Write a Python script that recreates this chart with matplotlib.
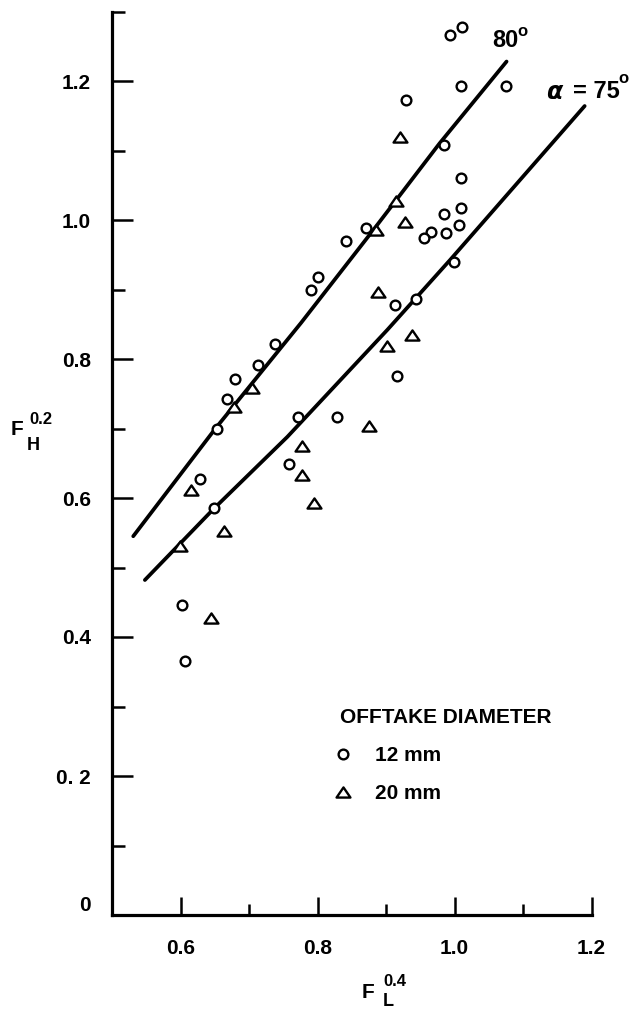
import matplotlib
matplotlib.use('Agg')
import matplotlib.pyplot as plt
from matplotlib.path import Path

plt.rcParams['font.family'] = ['Liberation Sans', 'DejaVu Sans']
plt.rcParams['font.weight'] = 'bold'

# ========== Data ==========
# 12 mm offtake (open circles)
x_12mm = [0.993, 1.011, 1.010, 1.075, 0.929, 0.984, 1.009, 1.009, 0.984, 1.006,
          0.966, 0.956, 0.987, 0.871, 0.841, 0.999, 0.801, 0.791, 0.944, 0.913,
          0.738, 0.713, 0.680, 0.668, 0.653, 0.771, 0.829, 0.916, 0.759, 0.629,
          0.649, 0.602, 0.606]
y_12mm = [1.266, 1.278, 1.193, 1.193, 1.172, 1.108, 1.061, 1.017, 1.009, 0.993,
          0.983, 0.974, 0.981, 0.989, 0.970, 0.939, 0.918, 0.899, 0.886, 0.878,
          0.821, 0.792, 0.771, 0.743, 0.699, 0.717, 0.717, 0.775, 0.649, 0.627,
          0.585, 0.446, 0.366]

# 20 mm offtake (open triangles)
x_20mm = [0.920, 0.915, 0.928, 0.885, 0.889, 0.938, 0.901, 0.705, 0.678, 0.778,
          0.777, 0.795, 0.875, 0.615, 0.664, 0.599, 0.645]
y_20mm = [1.120, 1.028, 0.997, 0.985, 0.896, 0.834, 0.819, 0.758, 0.731, 0.675,
          0.633, 0.593, 0.704, 0.612, 0.552, 0.531, 0.428]

# correlation curves
x_80 = [0.531, 0.651, 0.776, 0.881, 0.978, 1.076]
y_80 = [0.545, 0.700, 0.852, 0.985, 1.110, 1.228]
x_75 = [0.548, 0.649, 0.756, 0.902, 0.994, 1.190]
y_75 = [0.482, 0.585, 0.688, 0.842, 0.943, 1.164]

series_labels = ['12 mm', '20 mm']
legend_title = 'OFFTAKE DIAMETER'

x_major = [0.6, 0.8, 1.0, 1.2]
x_major_labels = ['0.6', '0.8', '1.0', '1.2']
x_minor = [0.7, 0.9, 1.1]
y_major = [0.0, 0.2, 0.4, 0.6, 0.8, 1.0, 1.2]
y_major_labels = ['0', '0. 2', '0.4', '0.6', '0.8', '1.0', '1.2']
y_minor = [0.1, 0.3, 0.5, 0.7, 0.9, 1.1, 1.3]

# ========== Figure ==========
W, H = 629, 1015
fig = plt.figure(figsize=(W / 100, H / 100), dpi=100)
ax = fig.add_axes([112 / W, 100 / H, 479.5 / W, 903.5 / H])

# wide, flat open triangle like the original symbol
tri = Path([(-1, -0.73), (1, -0.73), (0, 0.73), (-1, -0.73)], closed=True)

ax.plot(x_80, y_80, color='black', lw=2.7, solid_capstyle='round')
ax.plot(x_75, y_75, color='black', lw=2.7, solid_capstyle='round')
h12, = ax.plot(x_12mm, y_12mm, ls='none', marker='o', ms=7, mfc='white',
               mec='black', mew=1.7, label=series_labels[0], zorder=3)
h20, = ax.plot(x_20mm, y_20mm, ls='none', marker=tri, ms=10, mfc='white',
               mec='black', mew=1.7, label=series_labels[1], zorder=3)

ax.set_xlim(0.5, 1.2)
ax.set_ylim(0, 1.3)

for s in ['top', 'right']:
    ax.spines[s].set_visible(False)
for s in ['left', 'bottom']:
    ax.spines[s].set_linewidth(2.3)

ax.set_xticks(x_major, labels=x_major_labels)
ax.set_xticks(x_minor, minor=True)
ax.set_yticks(y_major, labels=y_major_labels)
ax.set_yticks(y_minor, minor=True)
ax.tick_params(axis='x', which='major', direction='in', length=13, width=1.8,
               pad=17, labelsize=15)
ax.tick_params(axis='x', which='minor', direction='in', length=8, width=1.8)
ax.tick_params(axis='y', which='major', direction='in', length=15, width=1.8,
               pad=15, labelsize=15)
ax.tick_params(axis='y', which='minor', direction='in', length=9, width=1.8)
ax.get_yticklabels()[0].set_va('bottom')

# curve labels
ax.text(1.0737, 1.2576, '80', fontsize=17, ha='center', va='center')
ax.text(1.0996, 1.2712, 'o', fontsize=12, ha='center', va='center')
ax.text(1.1464, 1.1835, r'$\alpha$', fontsize=17, ha='center', va='center')
ax.text(1.1731, 1.1849, '= 75', fontsize=17, ha='left', va='center')
ax.text(1.2466, 1.2029, 'o', fontsize=12, ha='center', va='center')

# axis labels, built from pieces like the original lettering
def ftext(px, py, s, size):
    fig.text(px / W, 1 - py / H, s, fontsize=size, ha='center', va='center')

ftext(368, 992, 'F', 15)
ftext(395, 981, '0.4', 12)
ftext(388, 1002, 'L', 13)
ftext(17, 430, 'F', 15)
ftext(41, 420, '0.2', 12)
ftext(33, 445, 'H', 13)

ax.legend(handles=[h12, h20], title=legend_title, loc='upper left',
          bbox_to_anchor=(340 / W, 1 - 708 / H), bbox_transform=fig.transFigure,
          frameon=False, borderpad=0, borderaxespad=0, handlelength=0.29,
          handletextpad=1.39, labelspacing=0.92, alignment='left', numpoints=1,
          prop={'size': 15, 'weight': 'bold'},
          title_fontproperties={'size': 15, 'weight': 'bold'})

fig.savefig('out.png', dpi=100)
